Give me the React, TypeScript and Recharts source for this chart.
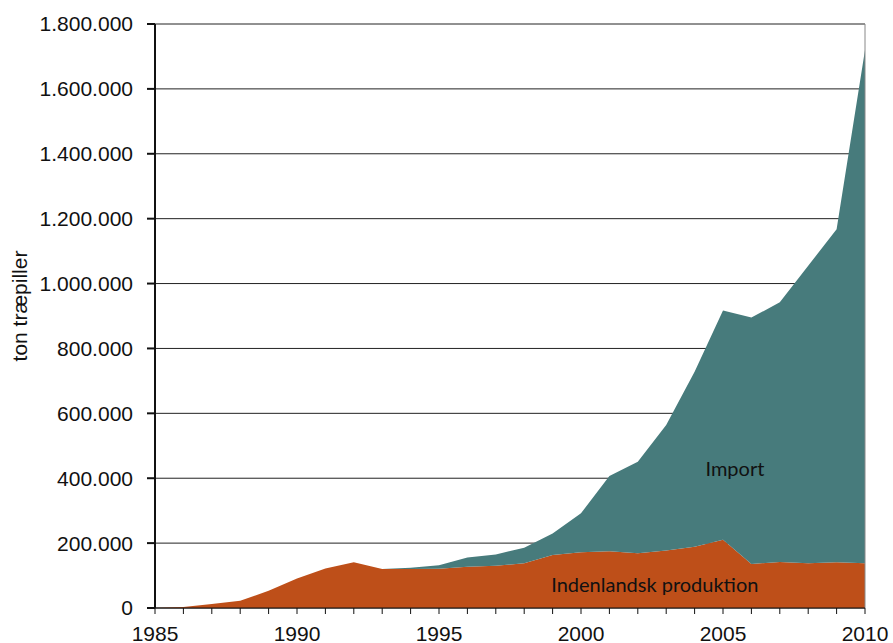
import { AreaChart, Area, XAxis, YAxis, CartesianGrid, ReferenceLine, ReferenceDot } from "recharts";

const years = [
  1985, 1986, 1987, 1988, 1989, 1990, 1991, 1992, 1993, 1994, 1995, 1996, 1997,
  1998, 1999, 2000, 2001, 2002, 2003, 2004, 2005, 2006, 2007, 2008, 2009, 2010,
];

// Indenlandsk produktion (ton)
const domestic = [
  0, 3000, 12000, 22000, 53000, 91000, 122000, 141000, 120000, 120000, 121000,
  127000, 130000, 138000, 163000, 172000, 175000, 169000, 177000, 189000, 210000,
  136000, 142000, 138000, 141000, 138000,
];

// Total forbrug (ton) - import = total - produktion
const total = [
  0, 3000, 12000, 22000, 53000, 91000, 122000, 141000, 120000, 124000, 132000,
  156000, 165000, 186000, 230000, 292000, 407000, 451000, 564000, 728000, 917000,
  895000, 942000, 1055000, 1167000, 1720000,
];

const yTicks = [0, 200000, 400000, 600000, 800000, 1000000, 1200000, 1400000, 1600000, 1800000];

const data = years.map((y, i) => ({
  year: y,
  domestic: domestic[i],
  import: total[i] - domestic[i],
}));

const fmt = (v: number) => v.toLocaleString("da-DK").replace(/,/g, ".");

const arial = "'Liberation Sans', Arial, sans-serif";
const tickFont = { fontFamily: arial, fontSize: 21, fill: "#111" };
const noteFont = { fontFamily: "Lato, sans-serif", fontSize: 20, fill: "#111" };

function YLabel() {
  return (
    <text
      x={27}
      y={306}
      transform="rotate(-90, 27, 306)"
      textAnchor="middle"
      style={{ fontFamily: arial, fontSize: 21, fill: "#111" }}
    >
      ton træpiller
    </text>
  );
}

export default function App() {
  return (
    <div style={{ position: "absolute", left: 0, top: 0, background: "#fff" }}>
      <AreaChart width={893} height={643} data={data} margin={{ top: 24, right: 28, bottom: 0, left: 0 }}>
        <CartesianGrid vertical={false} stroke="#222" strokeWidth={1} />
        <XAxis
          dataKey="year"
          type="number"
          domain={[1985, 2010]}
          ticks={years}
          interval={0}
          tickFormatter={(v: number) => (v % 5 === 0 ? String(v) : "")}
          height={35}
          tickSize={6}
          tickMargin={12}
          stroke="#111"
          tick={tickFont}
        />
        <YAxis
          domain={[0, 1800000]}
          ticks={yTicks}
          interval={0}
          width={155}
          tickSize={8}
          tickMargin={14}
          tickFormatter={fmt}
          stroke="#111"
          strokeWidth={2}
          tick={tickFont}
        />
        <ReferenceLine x={2010} stroke="#888" />
        <Area
          type="linear"
          dataKey="domestic"
          stackId="a"
          stroke="none"
          fill="#BE4F19"
          fillOpacity={1}
          isAnimationActive={false}
        />
        <Area
          type="linear"
          dataKey="import"
          stackId="a"
          stroke="none"
          fill="#477B7C"
          fillOpacity={1}
          isAnimationActive={false}
        />
        <ReferenceDot
          x={2005.42}
          y={430000}
          r={0}
          fill="none"
          stroke="none"
          label={{ value: "Import", position: "center", ...noteFont }}
        />
        <ReferenceDot
          x={2002.6}
          y={71000}
          r={0}
          fill="none"
          stroke="none"
          label={{ value: "Indenlandsk produktion", position: "center", ...noteFont }}
        />
        <YLabel />
      </AreaChart>
    </div>
  );
}
